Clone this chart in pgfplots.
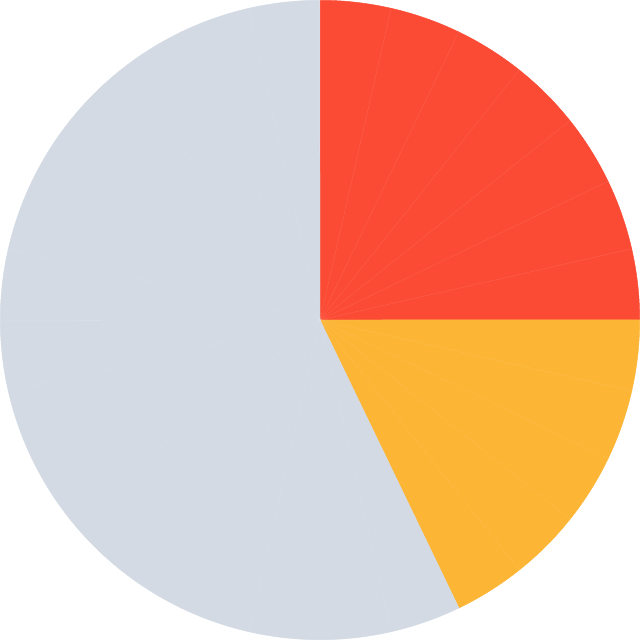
\documentclass[border=0pt]{standalone}
\usepackage{pgfplots}
\usepackage{pgfplotstable}
\pgfplotsset{compat=1.18}

\definecolor{sliceRed}{HTML}{FB4B35}
\definecolor{sliceOrange}{HTML}{FCB535}
\definecolor{sliceGray}{HTML}{D3DAE4}

% 28 equal slices, clockwise from 12 o'clock
\pgfplotstableread{
value col
1 sliceRed
1 sliceRed
1 sliceRed
1 sliceRed
1 sliceRed
1 sliceRed
1 sliceRed
1 sliceOrange
1 sliceOrange
1 sliceOrange
1 sliceOrange
1 sliceOrange
1 sliceGray
1 sliceGray
1 sliceGray
1 sliceGray
1 sliceGray
1 sliceGray
1 sliceGray
1 sliceGray
1 sliceGray
1 sliceGray
1 sliceGray
1 sliceGray
1 sliceGray
1 sliceGray
1 sliceGray
1 sliceGray
}\slices

\begin{document}
\begin{tikzpicture}
\begin{axis}[
    x=1cm, y=1cm,
    hide axis,
    xmin=-5.0314, xmax=5.0314,
    ymin=-5.0314, ymax=5.0314,
    clip=false]
\pgfplotsextra{
  \pgfplotstablegetrowsof{\slices}
  \pgfmathtruncatemacro\lastrow{\pgfplotsretval-1}
  % total of all slices
  \gdef\total{0}
  \foreach \i in {0,...,\lastrow} {
    \pgfplotstablegetelem{\i}{value}\of\slices
    \pgfmathsetmacro\tmp{\total+\pgfplotsretval}
    \xdef\total{\tmp}
  }
  % wedges
  \gdef\startang{90}
  \foreach \i in {0,...,\lastrow} {
    \pgfplotstablegetelem{\i}{value}\of\slices
    \let\v\pgfplotsretval
    \pgfplotstablegetelem{\i}{col}\of\slices
    \let\c\pgfplotsretval
    \pgfmathsetmacro\endang{\startang-\v/\total*360}
    \filldraw[fill=\c, draw=\c, line width=0.2pt, line join=round]
      (axis cs:0,0) -- ++(\startang:5cm)
      arc[start angle=\startang, end angle=\endang, radius=5cm] -- cycle;
    \xdef\startang{\endang}
  }
  % faint separators
  \gdef\startang{90}
  \foreach \i in {0,...,\lastrow} {
    \pgfplotstablegetelem{\i}{value}\of\slices
    \draw[white, opacity=0.07, line width=0.25pt]
      (axis cs:0,0) -- ++(\startang:5cm);
    \pgfmathsetmacro\endang{\startang-\pgfplotsretval/\total*360}
    \xdef\startang{\endang}
  }
}
\end{axis}
\end{tikzpicture}
\end{document}
